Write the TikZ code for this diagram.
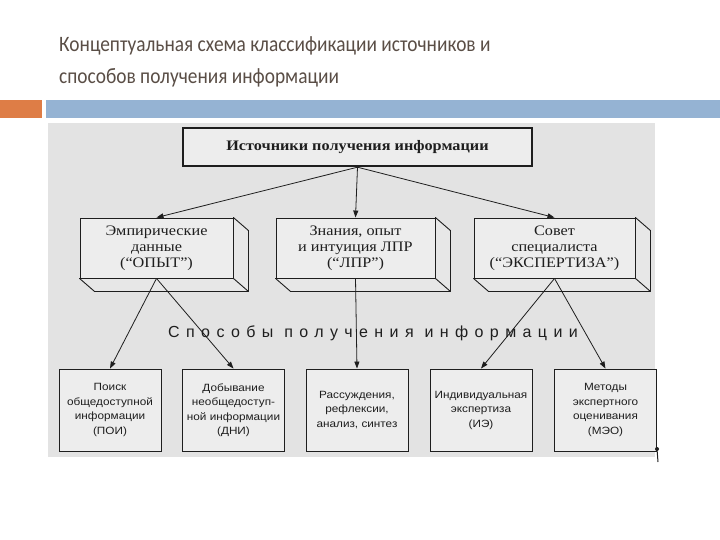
\documentclass[tikz,border=0pt]{standalone}
\usepackage{fontspec}
\setmainfont{Liberation Serif}
\newfontfamily\titlefont[FakeStretch=0.88]{Carlito}
\newfontfamily\scanserif[FakeStretch=1.12]{Liberation Serif}
\newfontfamily\scansans[FakeStretch=1.12]{Liberation Sans}
\newfontfamily\spacedfont[LetterSpace=40]{Liberation Sans}
\usetikzlibrary{arrows.meta,calc}
\definecolor{titlecol}{RGB}{90,78,70}
\definecolor{barorange}{RGB}{222,125,70}
\definecolor{barblue}{RGB}{149,179,211}
\definecolor{scanbg}{RGB}{227,227,227}
\definecolor{boxfill}{RGB}{237,237,237}
\definecolor{ink}{RGB}{30,30,30}
\tikzset{
  titletext/.style={anchor=base west, inner sep=0pt, text=titlecol, font=\titlefont\fontsize{22}{26}\selectfont},
  topbox/.style={draw=ink, line width=2.4pt, fill=boxfill, minimum width=349pt, minimum height=38pt, inner sep=0pt,
    font=\scanserif\bfseries\fontsize{14.5}{16}\selectfont, text=ink},
  midbox/.style={draw=ink, line width=0.9pt, fill=boxfill, minimum height=60pt, inner sep=0pt, align=center,
    font=\scanserif\fontsize{14.5}{16}\selectfont, text=ink},
  lowbox/.style={draw=ink, line width=0.9pt, fill=boxfill, minimum width=102pt, minimum height=82pt, inner sep=0pt, align=center,
    font=\scansans\fontsize{10.5}{14.5}\selectfont, text=ink},
  arr/.style={draw=ink, line width=0.8pt, -{Triangle[length=7pt,width=5pt]}},
  depth/.style={draw=ink, line width=0.9pt, fill=scanbg!60!boxfill, line join=round}
}
\begin{document}
\begin{tikzpicture}[x=1pt,y=-1pt]
\useasboundingbox (0,0) rectangle (720,540);
\fill[white] (0,0) rectangle (720,540);
% title
\node[titletext] (t1) at (59,52) {Концептуальная схема классификации источников и};
\node[titletext] (t2) at (59,84) {способов получения информации};
% bars
\fill[barorange] (0,100) rectangle (42,118);
\fill[barblue] (46,100) rectangle (720,118);
% scanned area
\fill[scanbg] (48,123) rectangle (655,457);
% top box
\node[topbox] (src) at (357.5,147) {Источники получения информации};
% middle 3D boxes (front faces)
\node[midbox, minimum width=153pt] (m1) at (156.5,248) {Эмпирические\\данные\\(“ОПЫТ”)};
\node[midbox, minimum width=159pt] (m2) at (355.5,248) {Знания, опыт\\и интуиция ЛПР\\(“ЛПР”)};
\node[midbox, minimum width=161pt] (m3) at (554.5,248) {Совет\\специалиста\\(“ЭКСПЕРТИЗА”)};
\foreach \n in {m1,m2,m3}{
  \draw[depth] (\n.north east) -- ++(15,13) -- ($(\n.south east)+(15,13)$) -- ($(\n.south west)+(15,13)$) -- (\n.south west) -- (\n.south east) -- cycle;
  \draw[draw=ink, line width=0.9pt] (\n.south east) -- ++(15,13);
}
% label
\node[inner sep=0pt, text=ink, font=\spacedfont\fontsize{16}{18}\selectfont] (lbl) at (373,333) {Способы получения информации};
% bottom boxes
\node[lowbox] (b1) at (110,410) {Поиск\\общедоступной\\информации\\(ПОИ)};
\node[lowbox] (b2) at (233.5,410) {Добывание\\необщедоступ-\\ной информации\\(ДНИ)};
\node[lowbox] (b3) at (357,410) {Рассуждения,\\рефлексии,\\анализ, синтез};
\node[lowbox] (b4) at (481,410) {Индивидуальная\\экспертиза\\(ИЭ)};
\node[lowbox] (b5) at (605.5,410) {Методы\\экспертного\\оценивания\\(МЭО)};
% arrows
\draw[arr] (src.south) -- (m1.north);
\draw[arr] (src.south) -- (m2.north);
\draw[arr] (src.south) -- (m3.north);
\draw[arr] (m1.south) -- (b1.north);
\draw[arr] (m1.south) -- (b2.north);
\draw[arr] (m2.south) -- (b3.north);
\draw[arr] (m3.south) -- (b4.north);
\draw[arr] (m3.south) -- (b5.north);
% scan artifact mark
\coordinate (mk) at (657,449);
\fill[ink] (mk) circle (2pt);
\draw[ink, line width=1pt] (mk) -- ++(1,13);
\end{tikzpicture}
\end{document}
